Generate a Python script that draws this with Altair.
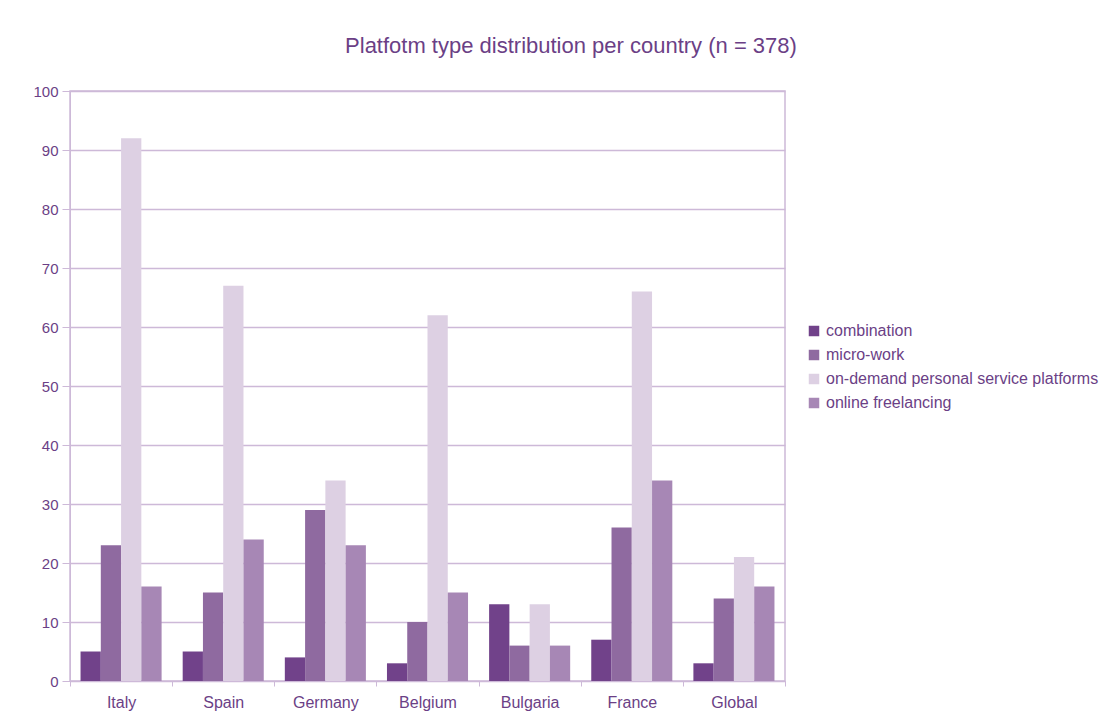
import altair as alt
import pandas as pd

countries = ["Italy", "Spain", "Germany", "Belgium", "Bulgaria", "France", "Global"]
types = ["combination", "micro-work", "on-demand personal service platforms", "online freelancing"]
combination = [5, 5, 4, 3, 13, 7, 3]
micro_work = [23, 15, 29, 10, 6, 26, 14]
on_demand = [92, 67, 34, 62, 13, 66, 21]
online_freelancing = [16, 24, 23, 15, 6, 34, 16]
colors = ["#71428a", "#8f6aa0", "#ddd0e3", "#a787b5"]

rows = []
for i, c in enumerate(countries):
    for t, vals in zip(types, [combination, micro_work, on_demand, online_freelancing]):
        rows.append({"country": c, "type": t, "value": vals[i]})
df = pd.DataFrame(rows)

txt = "#6b3f86"
grid = "#cdb9d8"

chart = alt.Chart(df).mark_bar().encode(
    x=alt.X("country:N", sort=countries, title=None,
            scale=alt.Scale(paddingInner=0, paddingOuter=0),
            axis=alt.Axis(labelAngle=0, tickBand="extent", labelColor=txt, labelFontSize=16,
                          labelFont="Liberation Sans", labelPadding=8, tickColor=grid,
                          domainColor=grid, tickSize=5, grid=False)),
    xOffset=alt.XOffset("type:N", sort=types,
                        scale=alt.Scale(paddingInner=0, paddingOuter=0.52)),
    y=alt.Y("value:Q", title=None,
            scale=alt.Scale(domain=[0, 100], nice=False),
            axis=alt.Axis(values=list(range(0, 101, 10)), labelColor=txt, labelFontSize=15,
                          labelFont="Liberation Sans", labelPadding=4, tickColor=grid,
                          domainColor=grid, tickSize=8, gridColor=grid, gridWidth=1.5)),
    color=alt.Color("type:N", sort=types, title=None,
                    scale=alt.Scale(domain=types, range=colors),
                    legend=alt.Legend(orient="none", legendX=736, legendY=232,
                                      symbolType="square", symbolSize=110,
                                      symbolStrokeWidth=0, labelColor=txt,
                                      labelFontSize=16, labelFont="Liberation Sans",
                                      labelOffset=4, rowPadding=8, labelLimit=400)),
).properties(
    width=715, height=590,
    title=alt.Title("Platfotm type distribution per country (n = 378)",
                    fontSize=22, font="Liberation Sans", fontWeight="normal",
                    color=txt, anchor="middle", frame="bounds", offset=26, dx=5),
    autosize=alt.AutoSizeParams(type="none"),
    padding={"left": 62, "top": 83, "right": 322, "bottom": 32},
).configure_view(stroke=grid, strokeWidth=1.5)

chart.save("out.html", embed_options={"renderer": "svg", "actions": False})
